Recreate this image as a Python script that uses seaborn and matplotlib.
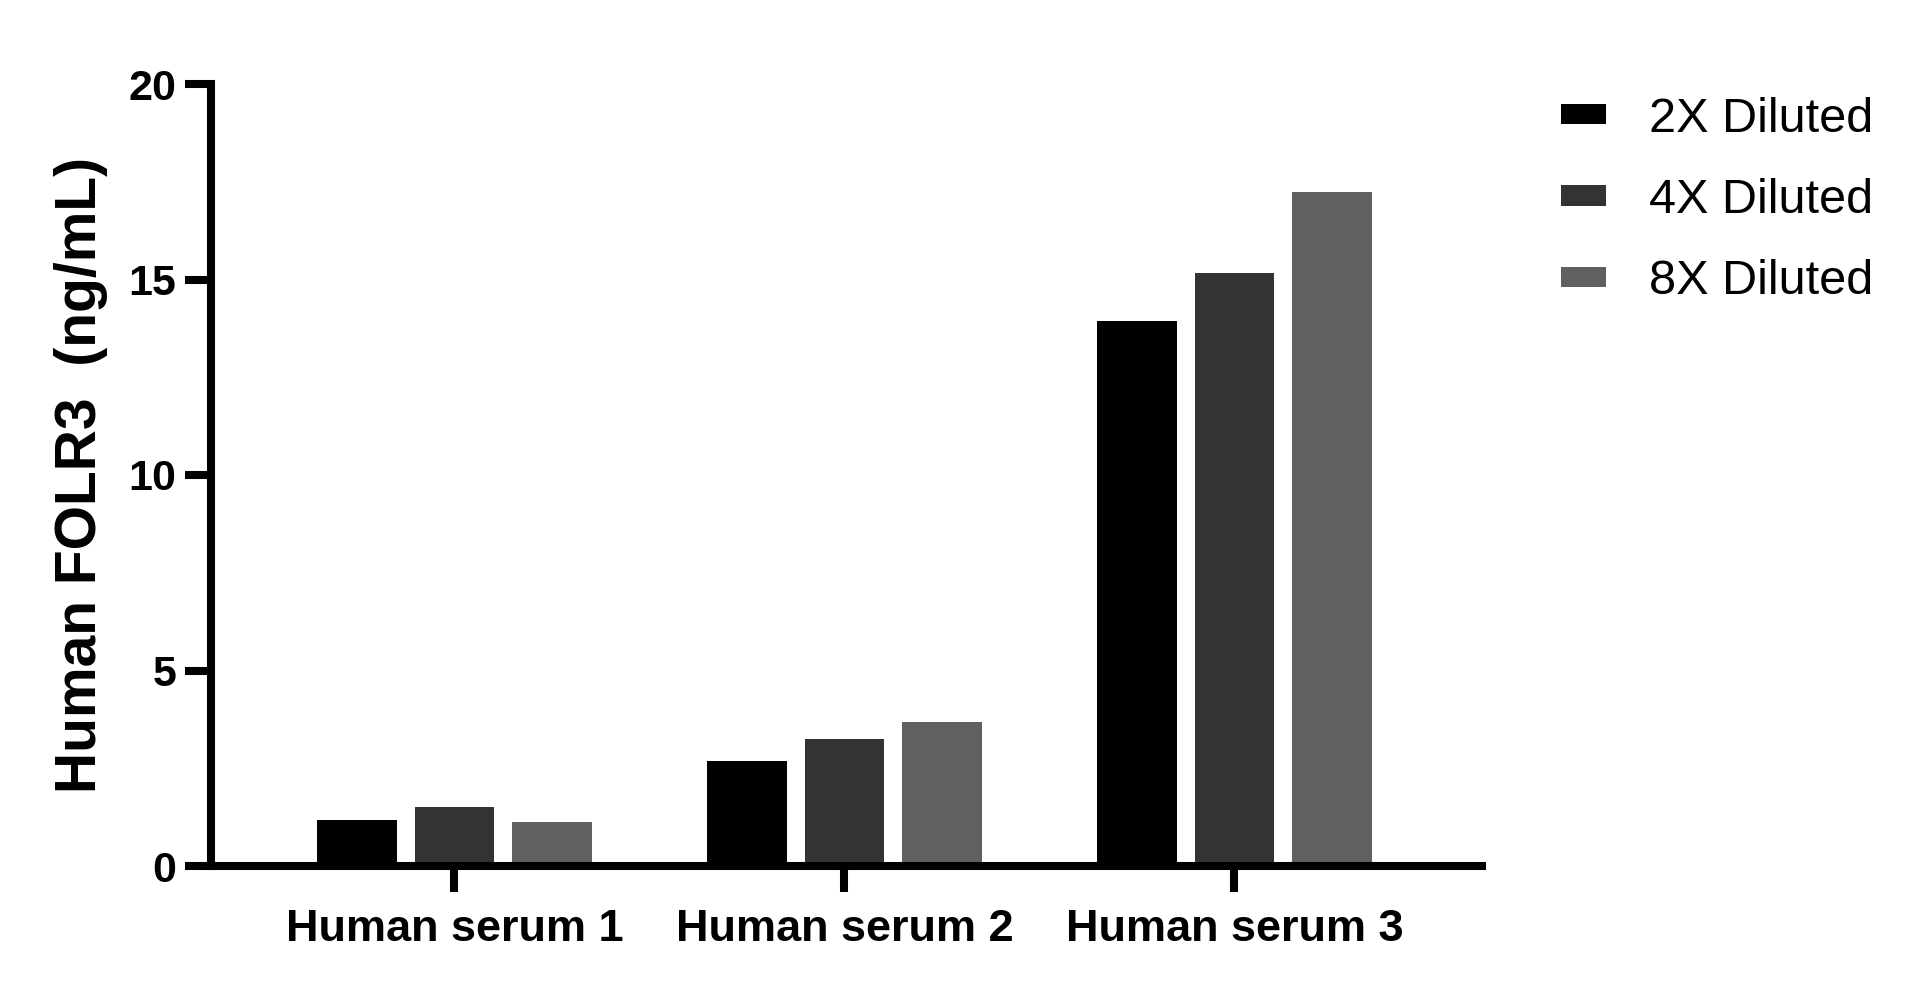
import matplotlib
matplotlib.use("Agg")
import matplotlib.pyplot as plt
import seaborn as sns
import pandas as pd

# ---- data ----
samples = ["Human serum 1", "Human serum 2", "Human serum 3"]
dilutions = ["2X Diluted", "4X Diluted", "8X Diluted"]
values_2x = [1.17, 2.69, 13.94]
values_4x = [1.51, 3.25, 15.17]
values_8x = [1.12, 3.68, 17.24]
colors = ["#000000", "#333333", "#606060"]
y_ticks = [0, 5, 10, 15, 20]
y_label = "Human FOLR3  (ng/mL)"

rows = []
for dil, vals in zip(dilutions, [values_2x, values_4x, values_8x]):
    for s, v in zip(samples, vals):
        rows.append({"sample": s, "dilution": dil, "value": v})
df = pd.DataFrame(rows)

sns.set_theme(style="ticks")
plt.rcParams["font.family"] = ["Liberation Sans", "DejaVu Sans"]
plt.rcParams["text.color"] = "black"
plt.rcParams["axes.labelcolor"] = "black"
plt.rcParams["xtick.color"] = "black"
plt.rcParams["ytick.color"] = "black"

W, H = 1919, 992
fig = plt.figure(figsize=(W / 100, H / 100), dpi=100)
ax = fig.add_axes([211 / W, 1 - 866 / H, (1481.7 - 211) / W, (866 - 84) / H])

sns.barplot(data=df, x="sample", y="value", hue="dilution", hue_order=dilutions,
            order=samples, palette=colors, saturation=1, width=0.75, gap=0.184,
            errorbar=None, linewidth=0, ax=ax)

ax.set_xlim(-0.624, 2.634)
ax.set_ylim(0, 20)
ax.set_yticks(y_ticks)
ax.set_yticklabels([str(t) for t in y_ticks])
ax.set_xlabel("")
ax.set_ylabel(y_label, fontsize=41, fontweight="bold", color="black")
ax.yaxis.set_label_coords(-0.081, 0.5)

for side in ["top", "right"]:
    ax.spines[side].set_visible(False)
for side in ["left", "bottom"]:
    ax.spines[side].set_linewidth(5.8)
    ax.spines[side].set_color("black")
    ax.spines[side].set_capstyle("projecting")

ax.tick_params(axis="both", direction="out", length=19, width=5.8, color="black")
ax.tick_params(axis="x", labelsize=32.5, pad=12)
ax.tick_params(axis="y", labelsize=31, pad=6)
for lab in ax.get_xticklabels() + ax.get_yticklabels():
    lab.set_fontweight("bold")
    lab.set_color("black")

sns.move_legend(ax, "upper left", bbox_to_anchor=(1561 / W, 1 - 96.5 / H),
                bbox_transform=fig.transFigure, frameon=False, title=None,
                fontsize=35, handlelength=0.93, handleheight=0.27,
                labelspacing=0.75, handletextpad=0.88, borderpad=0,
                borderaxespad=0, labelcolor="black")

fig.savefig("out.png", dpi=100, facecolor="white")
